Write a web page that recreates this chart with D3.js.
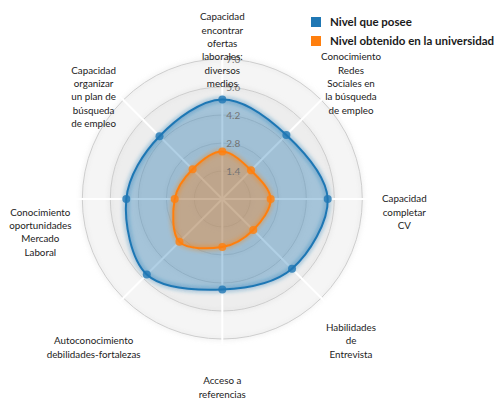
<!DOCTYPE html>
<html><head><meta charset="utf-8">
<script src="https://cdn.jsdelivr.net/npm/d3@7"></script>
<style>
body{margin:0;background:#fff;}
svg{font-family:Lato, "Open Sans", sans-serif;}
</style></head>
<body><svg id="c" width="500" height="400"></svg>
<script>
const axes = [
  ["Capacidad","encontrar","ofertas","laborales:","diversos","medios"],
  ["Conocimiento","Redes","Sociales en","la búsqueda","de empleo"],
  ["Capacidad","completar","CV"],
  ["Habilidades","de","Entrevista"],
  ["Acceso a","referencias"],
  ["Autoconocimiento","debilidades-fortalezas"],
  ["Conocimiento","oportunidades","Mercado","Laboral"],
  ["Capacidad","organizar","un plan de","búsqueda","de empleo"]
];
const seriesNames = ["Nivel que posee","Nivel obtenido en la universidad"];
const posee = [4.98, 4.53, 5.27, 4.93, 4.52, 5.34, 4.80, 4.44];
const universidad = [2.37, 2.03, 2.42, 2.19, 2.40, 3.03, 2.38, 2.10];
const tickValues = [1.4, 2.8, 4.2, 5.6, 7.0];
const labelLineShift = [0, -1, 0, 0, 0, 1, 1, 0];
const colors = ["#1f77b4", "#ff7f0e"];

const maxValue = 7, R = 140, cx = 222.3, cy = 199;
const svg = d3.select("#c");
const defs = svg.append("defs");
const filt = defs.append("filter").attr("id","glow");
filt.append("feGaussianBlur").attr("stdDeviation","2.5").attr("result","coloredBlur");
const fm = filt.append("feMerge");
fm.append("feMergeNode").attr("in","coloredBlur");
fm.append("feMergeNode").attr("in","SourceGraphic");

const g = svg.append("g").attr("transform",`translate(${cx},${cy})`);
const r = d3.scaleLinear().domain([0,maxValue]).range([0,R]);
const n = axes.length, slice = 2*Math.PI/n;

// grid
g.selectAll(".ring").data(tickValues.slice().reverse()).join("circle")
  .attr("r", d=>r(d)).style("fill","#CDCDCD").style("stroke","#CDCDCD")
  .style("fill-opacity",0.1).style("filter","url(#glow)");

// axes
g.selectAll(".axis").data(axes).join("line")
  .attr("x1",0).attr("y1",0)
  .attr("x2",(d,i)=>r(maxValue*1.04)*Math.cos(slice*i-Math.PI/2))
  .attr("y2",(d,i)=>r(maxValue*1.04)*Math.sin(slice*i-Math.PI/2))
  .style("stroke","#fff").style("stroke-width",2);

// areas
const line = d3.lineRadial().curve(d3.curveCardinalClosed)
  .radius(d=>r(d)).angle((d,i)=>i*slice);
const data = [posee, universidad];
const blobs = g.selectAll(".blob").data(data).join("g");
blobs.append("path").attr("d", d=>line(d))
  .style("fill",(d,i)=>colors[i]).style("fill-opacity",0.35);
blobs.append("path").attr("d", d=>line(d))
  .style("fill","none").style("stroke",(d,i)=>colors[i]).style("stroke-width",2)
  .style("filter","url(#glow)");
blobs.each(function(d,k){
  d3.select(this).selectAll("circle").data(d).join("circle")
    .attr("r",4)
    .attr("cx",(v,i)=>r(v)*Math.cos(slice*i-Math.PI/2))
    .attr("cy",(v,i)=>r(v)*Math.sin(slice*i-Math.PI/2))
    .style("fill",colors[k]).style("fill-opacity",0.8);
});

// tick labels
g.selectAll(".tick").data(tickValues).join("text")
  .attr("x",4).attr("y",d=>-r(d)).attr("dy","0.4em")
  .style("font-size","10px").style("fill","#737373")
  .text(d=>d3.format(".1f")(d));

// axis labels
const lh = 13.3;
axes.forEach((lines,i)=>{
  const lr = R*1.3;
  const x = lr*Math.cos(slice*i-Math.PI/2);
  const y = lr*Math.sin(slice*i-Math.PI/2) + labelLineShift[i]*lh;
  const t = g.append("text").attr("text-anchor","middle")
    .style("font-size","9.8px").style("fill","#222");
  lines.forEach((s,j)=>{
    t.append("tspan").attr("x",x).attr("y",y+j*lh).attr("dy","0.35em").text(s);
  });
});

// legend
const lg = svg.append("g").attr("transform","translate(311,17)");
seriesNames.forEach((s,i)=>{
  lg.append("rect").attr("x",0).attr("y",i*19).attr("width",10).attr("height",10).style("fill",colors[i]);
  lg.append("text").attr("x",19).attr("y",i*19+5).attr("dy","0.35em")
    .style("font-size","11.5px").style("font-weight","bold").style("fill","#1a1a1a").text(s);
});
</script></body></html>
